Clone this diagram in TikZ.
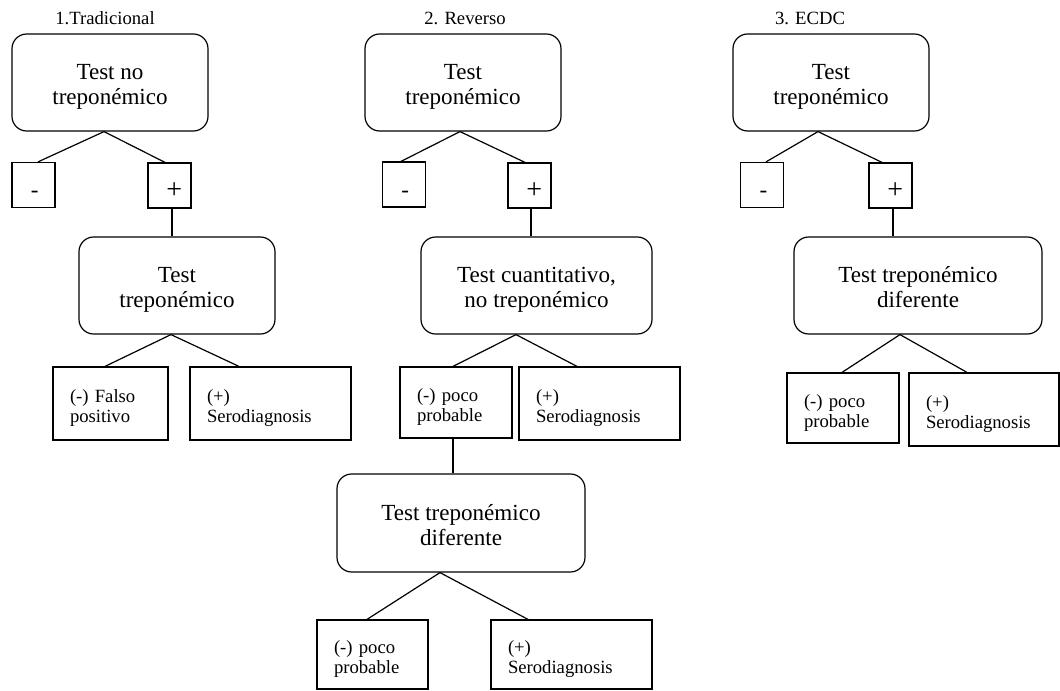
\documentclass[tikz,border=0pt]{standalone}
\usepackage{fontspec}
\setmainfont{Liberation Serif}
\usetikzlibrary{calc}
\newcommand{\sgnplus}{\hspace*{7pt}\raisebox{-6pt}{\fontsize{21}{21}\selectfont +}}
\newcommand{\sgnminus}{\hspace*{2pt}\raisebox{-5.8pt}{-}}
\newcommand{\tst}{\rule{0pt}{18.6pt}}
\newcommand{\bst}{\rule[-4pt]{0pt}{4pt}}
\begin{document}
\begin{tikzpicture}[x=0.75pt,y=-0.75pt,
  line width=0.9pt,
  rbox/.style 2 args={draw, rounded corners=11pt, minimum width=#1, minimum height=#2, align=center, inner sep=2pt,
    font=\fontsize{17.3}{19.1}\selectfont},
  sgn/.style={draw, minimum width=32.25pt, minimum height=33.75pt, inner sep=0pt, text height=1em, text depth=0.25em, font=\fontsize{17.3}{19.5}\selectfont},
  leaf/.style 2 args={draw, align=left, text width=#1, minimum height=#2, inner xsep=12.75pt, inner ysep=0pt,
    font=\fontsize{14}{15}\selectfont,
    execute at begin node={\rule{0pt}{16.75pt}},
    execute at end node={\rule[-3.2pt]{0pt}{3.2pt}}},
  lab/.style={font=\fontsize{14}{16}\selectfont, inner sep=0pt},
  conn/.style={line width=0.9pt}
]
\useasboundingbox (0,0) rectangle (1060,691);

% Column 1
\node[lab] (L1) at (105,18) {1.Tradicional};
\node[rbox={147pt}{72.75pt}] (A1) at (110,82.5) {\tst Test no\\treponémico\bst};
\node[sgn] (N1) at (33.5,185) {\sgnminus};
\node[sgn] (P1) at (169.5,185.5) {\sgnplus};
\node[rbox={147pt}{72.75pt}] (B1) at (177,285.5) {\tst Test\\treponémico\bst};
\node[leaf={60.75pt}{54.75pt}] (C1) at (110.5,403.5) {(-) Falso\\positivo};
\node[leaf={95.25pt}{54.75pt}] (D1) at (270.5,403.5) {(+)\\Serodiagnosis};

\draw[conn] ($(A1.south)+(-6,0)$) -- ($(N1.north)+(4.5,0)$);
\draw[conn] ($(A1.south)+(-6,0)$) -- ($(P1.north)+(-4.5,0)$);
\draw[conn] ($(P1.south)+(2.5,0)$) -- ($(B1.north)+(-5,0)$);
\draw[conn] ($(B1.south)+(-6,0)$) -- ($(C1.north)+(-5.5,0)$);
\draw[conn] ($(B1.south)+(-6,0)$) -- ($(D1.north)+(-31.5,0)$);

% Column 2
\node[lab] (L2) at (465,18) {2. Reverso};
\node[rbox={147pt}{72.75pt}] (A2) at (463,82.5) {\tst Test\\treponémico\bst};
\node[sgn] (N2) at (404,184.5) {\sgnminus};
\node[sgn] (P2) at (529.5,185.5) {\sgnplus};
\node[rbox={173.25pt}{72.75pt}] (B2) at (536.5,285.5) {\tst Test cuantitativo,\\no treponémico\bst};
\node[leaf={58.5pt}{53.25pt}] (C2) at (456,402.5) {(-) poco\\probable};
\node[leaf={95.25pt}{54.75pt}] (D2) at (599.5,403.5) {(+)\\Serodiagnosis};
\node[rbox={186pt}{73.5pt}] (E2) at (461,523) {\tst Test treponémico\\diferente\bst};
\node[leaf={57.75pt}{51.75pt}] (F2) at (372.5,654.5) {(-) poco\\probable};
\node[leaf={95.25pt}{51.75pt}] (G2) at (571.5,654.5) {(+)\\Serodiagnosis};

\draw[conn] ($(A2.south)+(-3,0)$) -- ($(N2.north)+(-3,0)$);
\draw[conn] ($(A2.south)+(-3,0)$) -- ($(P2.north)+(-4.5,0)$);
\draw[conn] ($(P2.south)+(1.5,0)$) -- ($(B2.north)+(-5.5,0)$);
\draw[conn] ($(B2.south)+(-20.5,0)$) -- ($(C2.north)+(-3,0)$);
\draw[conn] ($(B2.south)+(-20.5,0)$) -- ($(D2.north)+(-22.5,0)$);
\draw[conn] ($(C2.south)+(-3,0)$) -- ($(E2.north)+(-8,0)$);
\draw[conn] ($(E2.south)+(-21,0)$) -- ($(F2.north)+(-5.5,0)$);
\draw[conn] ($(E2.south)+(-21,0)$) -- ($(G2.north)+(-43.5,0)$);

% Column 3
\node[lab] (L3) at (810,18) {3. ECDC};
\node[rbox={147pt}{72.75pt}] (A3) at (831,82.5) {\tst Test\\treponémico\bst};
\node[sgn] (N3) at (762,185) {\sgnminus};
\node[sgn] (P3) at (890.5,185.5) {\sgnplus};
\node[rbox={186pt}{72.75pt}] (B3) at (918,285.5) {\tst Test treponémico\\diferente\bst};
\node[leaf={58.5pt}{52.5pt}] (C3) at (843,408) {(-) poco\\probable};
\node[leaf={87pt}{54.75pt}] (D3) at (984,409.5) {(+)\\Serodiagnosis};

\draw[conn] ($(A3.south)+(-13,0)$) -- ($(N3.north)+(4,0)$);
\draw[conn] ($(A3.south)+(-13,0)$) -- ($(P3.north)+(-8.5,0)$);
\draw[conn] ($(P3.south)+(2.5,0)$) -- ($(B3.north)+(-25,0)$);
\draw[conn] ($(B3.south)+(-18,0)$) -- ($(C3.north)+(-1,0)$);
\draw[conn] ($(B3.south)+(-18,0)$) -- ($(D3.north)+(-17,0)$);
\end{tikzpicture}
\end{document}
